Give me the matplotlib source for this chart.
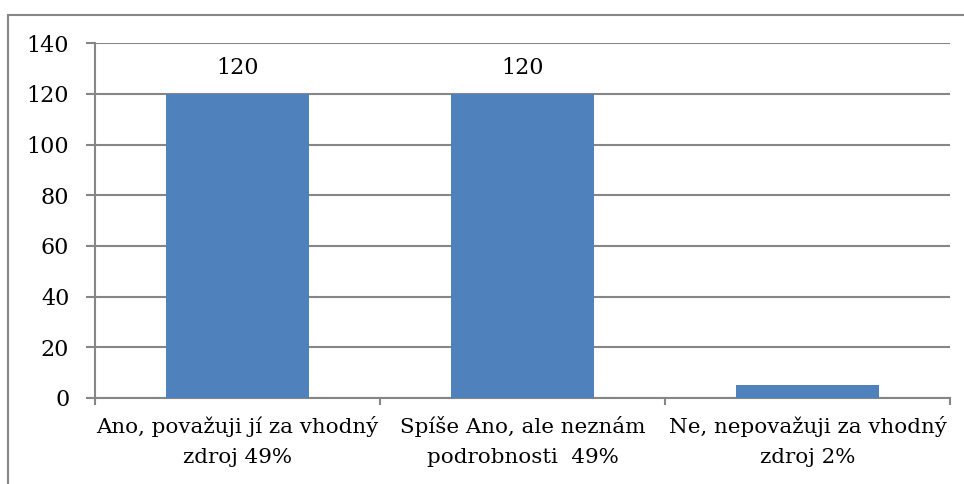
import matplotlib
matplotlib.use('Agg')
import matplotlib.pyplot as plt
import numpy as np
from matplotlib.patches import Rectangle

# data
kategorie = ['Ano, považuji jí za vhodný\nzdroj 49%',
             'Spíše Ano, ale neznám\npodrobnosti  49%',
             'Ne, nepovažuji za vhodný\nzdroj 2%']
pocty = [120, 120, 5]
popisky = ['120', '120', '']

plt.rcParams['font.family'] = ['DejaVu Serif']
seda = '#868686'
modra = '#4F81BD'
vel = 15.4

fig = plt.figure(figsize=(9.64, 4.84), dpi=100)
ax = fig.add_axes([95/964, 86/484, 855/964, 354.7/484])

x = np.arange(len(pocty))
bars = ax.bar(x, pocty, width=0.5, color=modra, zorder=3)
for b, t in zip(bars, popisky):
    if t:
        ax.text(b.get_x() + b.get_width()/2, b.get_height() + 6, t,
                ha='center', va='bottom', fontsize=vel + 0.6)

ax.set_xlim(-0.5, len(pocty) - 0.5)
ax.set_ylim(0, 140)
ax.set_yticks(np.arange(0, 141, 20))
ax.yaxis.grid(True, color=seda, linewidth=1.5, zorder=0)

# popisky kategorii na hlavnich tickach, carky na hranicich
ax.set_xticks(x)
ax.set_xticklabels(kategorie, fontsize=vel, linespacing=1.75)
ax.tick_params(axis='x', length=0, pad=13)
ax.set_xticks(np.arange(-0.5, len(pocty), 1), minor=True)
ax.tick_params(axis='x', which='minor', length=5, width=1.5, color=seda)
ax.tick_params(axis='y', length=6.5, width=1.5, color=seda, labelsize=vel + 0.6, pad=12)

for s in ['top', 'right']:
    ax.spines[s].set_visible(False)
for s in ['left', 'bottom']:
    ax.spines[s].set_color(seda)
    ax.spines[s].set_linewidth(1.5)

# ramecek grafu
fig.patches.append(Rectangle((8/964, -0.1), 1.0, 1 - 15/484 + 0.1,
                             transform=fig.transFigure, fill=False,
                             edgecolor=seda, linewidth=1.5))

fig.savefig('out.png', dpi=100)
